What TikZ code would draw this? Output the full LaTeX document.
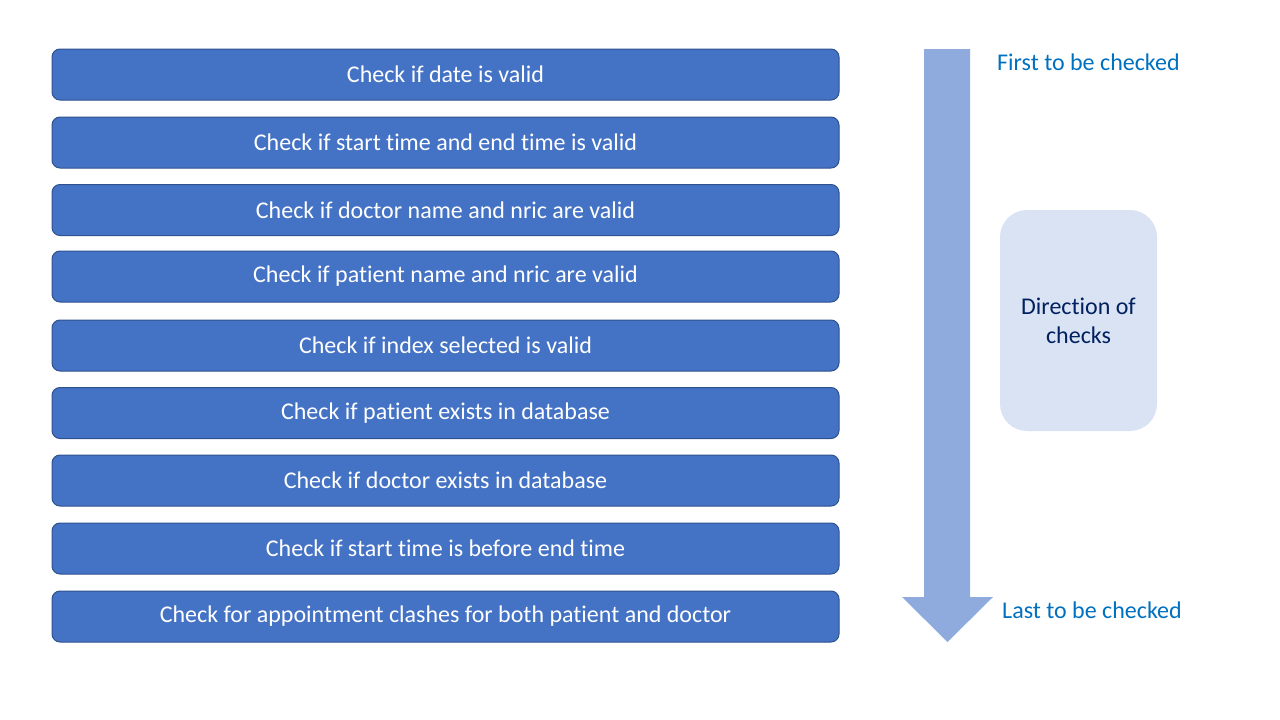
\documentclass[tikz,border=0pt]{standalone}
\usepackage{fontspec}
\setmainfont{Carlito}[Ligatures={NoCommon}]
\definecolor{boxfill}{HTML}{4472C4}
\definecolor{boxline}{HTML}{2F528F}
\definecolor{arrowfill}{HTML}{8FAADC}
\definecolor{notefill}{HTML}{DAE3F3}
\definecolor{notetext}{HTML}{002060}
\definecolor{labeltext}{HTML}{0070C0}
\tikzset{
  checkbox/.style={draw=boxline, line width=1pt, fill=boxfill, rounded corners=8pt,
    minimum width=787pt, minimum height=51pt, inner sep=0pt, text=white,
    font=\fontsize{24}{29}\selectfont},
  sidelabel/.style={anchor=west, inner sep=0pt, text=labeltext, font=\fontsize{24}{29}\selectfont},
  notebox/.style={fill=notefill, rounded corners=27pt, minimum width=157pt, minimum height=221pt,
    inner sep=0pt, text=notetext, align=center, font=\fontsize{24}{29}\selectfont}
}
\begin{document}
\begin{tikzpicture}[x=1pt,y=-1pt]
\useasboundingbox (0,0) rectangle (1280,720);
\node[checkbox] (c1) at (445.5,74.5) {Check if date is valid};
\node[checkbox] (c2) at (445.5,142.5) {Check if start time and end time is valid};
\node[checkbox] (c3) at (445.5,210) {Check if doctor name and nric are valid};
\node[checkbox] (c4) at (445.5,276.5) {Check if patient name and nric are valid};
\node[checkbox] (c5) at (445.5,345.5) {Check if index selected is valid};
\node[checkbox] (c6) at (445.5,413) {Check if patient exists in database};
\node[checkbox] (c7) at (445.5,480.5) {Check if doctor exists in database};
\node[checkbox] (c8) at (445.5,548.5) {Check if start time is before end time};
\node[checkbox] (c9) at (445.5,616.5) {Check for appointment clashes for both patient and doctor};
% direction arrow
\fill[arrowfill] (924,49) -- (970,49) -- (970,597) -- (993,597) -- (947.5,642) -- (902,597) -- (924,597) -- cycle;
\node[sidelabel] (first) at (997,62) {First to be checked};
\node[sidelabel] (last) at (1002,610) {Last to be checked};
\node[notebox] (note) at (1078.5,320.5) {Direction of\\checks};
\end{tikzpicture}
\end{document}
